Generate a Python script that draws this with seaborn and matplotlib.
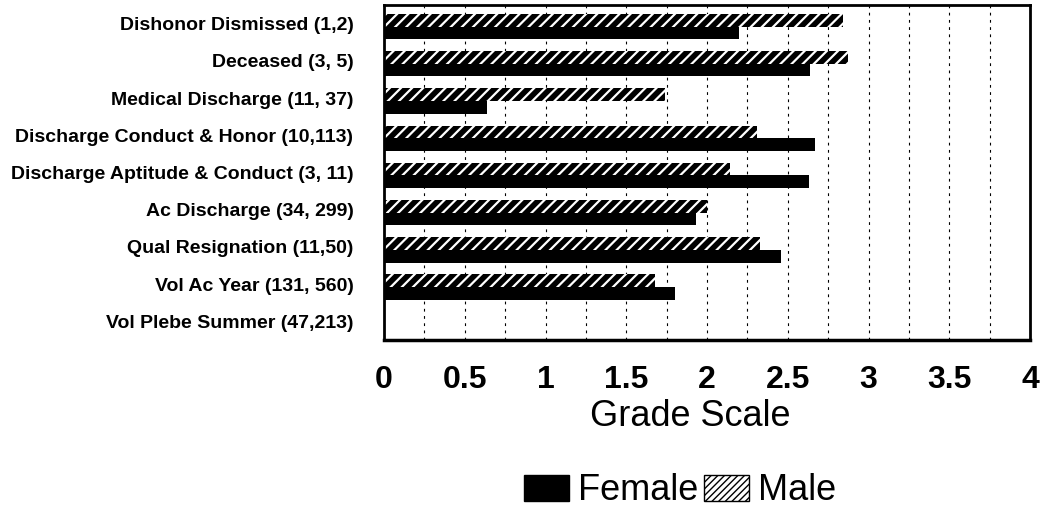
import numpy as np
import pandas as pd
import matplotlib
matplotlib.use("Agg")
import matplotlib.pyplot as plt
import matplotlib.patches as mpatches
from matplotlib.ticker import MultipleLocator, FixedLocator
import seaborn as sns

# ---------------- data ----------------
categories = ['Dishonor Dismissed (1,2)', 'Deceased (3, 5)', 'Medical Discharge (11, 37)',
              'Discharge Conduct & Honor (10,113)', 'Discharge Aptitude & Conduct (3, 11)',
              'Ac Discharge (34, 299)', 'Qual Resignation (11,50)', 'Vol Ac Year (131, 560)',
              'Vol Plebe Summer (47,213)']
male = [2.84, 2.87, 1.74, 2.31, 2.14, 2.00, 2.33, 1.68, 0.0]
female = [2.20, 2.64, 0.64, 2.67, 2.63, 1.93, 2.46, 1.80, 0.0]
x_ticks = [0, 0.5, 1, 1.5, 2, 2.5, 3, 3.5, 4]
x_tick_labels = ['0', '0.5', '1', '1.5', '2', '2.5', '3', '3.5', '4']

df = pd.DataFrame({'cat': categories * 2,
                   'sex': ['Male'] * len(categories) + ['Female'] * len(categories),
                   'grade': male + female})

sns.set_style("white")
plt.rcParams['font.family'] = ['Liberation Sans', 'DejaVu Sans']
plt.rcParams['text.color'] = 'black'
plt.rcParams['xtick.color'] = 'black'
plt.rcParams['ytick.color'] = 'black'
plt.rcParams['hatch.linewidth'] = 1.6

fig = plt.figure(figsize=(10.4, 5.18), dpi=100)
ax = fig.add_axes([384/1040, 1 - 340/518, (1030 - 384)/1040, (340 - 5)/518])

sns.barplot(data=df, y='cat', x='grade', hue='sex', hue_order=['Male', 'Female'],
            order=categories, orient='h', width=0.68,
            palette={'Male': 'black', 'Female': 'black'}, legend=False,
            saturation=1, ax=ax)

# male bars: black with white slashes; bars sit slightly low in their slot
for p in ax.containers[0]:
    p.set_hatch('///')
    p.set_edgecolor('white')
    p.set_linewidth(0)
for c in ax.containers:
    for p in c:
        p.set_y(p.get_y() + 0.08)
for p in ax.containers[1]:
    p.set_linewidth(0)

ax.set_xlim(0, 4)
ax.set_ylim(len(categories) - 0.5, -0.5)

# dashed vertical grid every 0.25
ax.xaxis.set_minor_locator(MultipleLocator(0.25))
ax.grid(False)
for v in np.arange(0.25, 4, 0.25):
    ax.axvline(v, color='black', lw=0.8, ls=(0, (2.5, 4)), zorder=0)

ax.set_xticks(x_ticks)
ax.set_xticklabels(x_tick_labels, fontsize=23, fontweight='bold')
ax.tick_params(axis='x', which='major', length=0, pad=18)
ax.tick_params(axis='x', which='minor', length=3, width=0.8, direction='out')

ax.set_yticks(range(len(categories)))
ax.set_yticklabels(categories, fontsize=14, fontweight='bold')
ax.yaxis.set_minor_locator(FixedLocator(np.arange(0.5, len(categories) - 1, 1)))
ax.tick_params(axis='y', which='major', length=0, pad=22)
ax.tick_params(axis='y', which='minor', length=22, width=1.5, direction='inout')

ax.set_xlabel('')
ax.set_ylabel('')
for s in ax.spines.values():
    s.set_visible(True)
    s.set_color('black')
    s.set_linewidth(2)
ax.spines['bottom'].set_linewidth(2.5)

fig.text(690/1040, 1 - 416/518, 'Grade Scale', fontsize=26, ha='center', va='center')

handles = [mpatches.Patch(facecolor='black', edgecolor='black', label='Female'),
           mpatches.Patch(facecolor='white', edgecolor='black', hatch='/////', label='Male')]
leg = fig.legend(handles=handles, loc='center', bbox_to_anchor=(680/1040, 1 - 491/518),
                 ncol=2, frameon=False, fontsize=26, handlelength=1.25, handleheight=0.75,
                 handletextpad=0.25, columnspacing=0.15)
for h in leg.get_patches():
    if hasattr(h, 'set_hatch_linewidth'):
        h.set_hatch_linewidth(1.0)

fig.savefig('out.png', dpi=100)
